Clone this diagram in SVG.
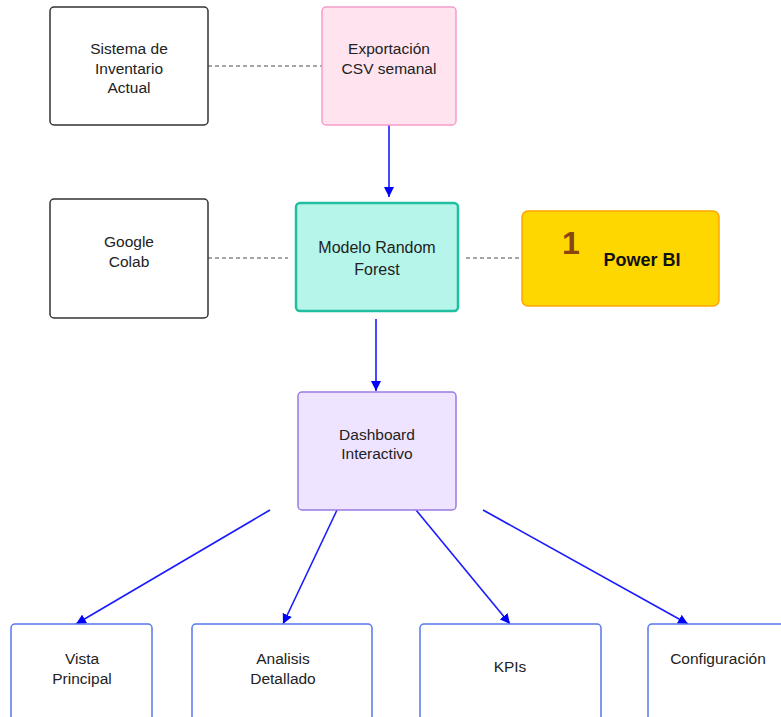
<svg xmlns="http://www.w3.org/2000/svg" width="781" height="717" viewBox="0 0 781 717">
<defs>
<marker id="arr" viewBox="0 0 10 10" refX="10" refY="5" markerWidth="10" markerHeight="10" markerUnits="userSpaceOnUse" orient="auto">
<path d="M0,0 L10,5 L0,10 z" fill="#0000ff"/>
</marker>
<style>
text{font-family:"Liberation Sans",Arial,sans-serif;font-size:15.5px;fill:#222;text-anchor:middle}
.dash{stroke:#888;stroke-width:1.3;stroke-dasharray:4,3;fill:none}
.flow{stroke:#1a1aff;stroke-width:1.6;fill:none;marker-end:url(#arr)}
.sub{fill:#fff;stroke:#5577ee;stroke-width:1.5}
</style>
</defs>
<rect width="781" height="717" fill="#fff"/>
<g id="connectors">
<line class="dash" x1="208" y1="66" x2="322" y2="66"/>
<line class="dash" x1="208" y1="258" x2="288" y2="258"/>
<line class="dash" x1="466" y1="258" x2="522" y2="258"/>
<line class="flow" x1="389" y1="125" x2="389" y2="197"/>
<line class="flow" x1="376" y1="319" x2="376" y2="391"/>
<line class="flow" x1="270" y1="510" x2="76" y2="624"/>
<line class="flow" x1="337" y1="510" x2="283" y2="624"/>
<line class="flow" x1="416" y1="510" x2="510" y2="624"/>
<line class="flow" x1="483" y1="510" x2="688" y2="624"/>
</g>
<g id="sistema">
<rect x="50" y="7" width="158" height="118" rx="4" fill="#fff" stroke="#333" stroke-width="1.5"/>
<text x="129" y="54">Sistema de</text>
<text x="129" y="74">Inventario</text>
<text x="129" y="93">Actual</text>
</g>
<g id="exportacion">
<rect x="322" y="7" width="134" height="118" rx="4" fill="#ffe4f0" stroke="#f59cc8" stroke-width="1.5"/>
<text x="389" y="54">Exportación</text>
<text x="389" y="74">CSV semanal</text>
</g>
<g id="colab">
<rect x="50" y="199" width="158" height="119" rx="4" fill="#fff" stroke="#333" stroke-width="1.5"/>
<text x="129" y="247">Google</text>
<text x="129" y="267">Colab</text>
</g>
<g id="modelo">
<rect x="296" y="203" width="162" height="108" rx="4" fill="#b5f5ea" stroke="#1fbf9f" stroke-width="2.5"/>
<text x="377" y="253" style="font-size:16px">Modelo Random</text>
<text x="377" y="275" style="font-size:16px">Forest</text>
</g>
<g id="powerbi">
<rect x="522" y="211" width="197" height="95" rx="6" fill="#ffd700" stroke="#ffa500" stroke-width="1.5"/>
<text x="571" y="254" style="font-size:32px;font-weight:bold;fill:#8b4513">1</text>
<text x="642" y="266" style="font-size:18px;font-weight:bold;fill:#111">Power BI</text>
</g>
<g id="dashboard">
<rect x="298" y="392" width="158" height="118" rx="4" fill="#efe4ff" stroke="#9a7ae0" stroke-width="1.5"/>
<text x="377" y="440">Dashboard</text>
<text x="377" y="459">Interactivo</text>
</g>
<g id="vista">
<rect x="11" y="624" width="141" height="110" rx="4" class="sub"/>
<text x="82" y="664">Vista</text>
<text x="82" y="684">Principal</text>
</g>
<g id="analisis">
<rect x="192" y="624" width="180" height="110" rx="4" class="sub"/>
<text x="283" y="664">Analisis</text>
<text x="283" y="684">Detallado</text>
</g>
<g id="kpis">
<rect x="420" y="624" width="181" height="110" rx="4" class="sub"/>
<text x="510" y="672">KPIs</text>
</g>
<g id="configuracion">
<rect x="648" y="624" width="160" height="110" rx="4" class="sub"/>
<text x="718" y="664">Configuración</text>
</g>
</svg>
